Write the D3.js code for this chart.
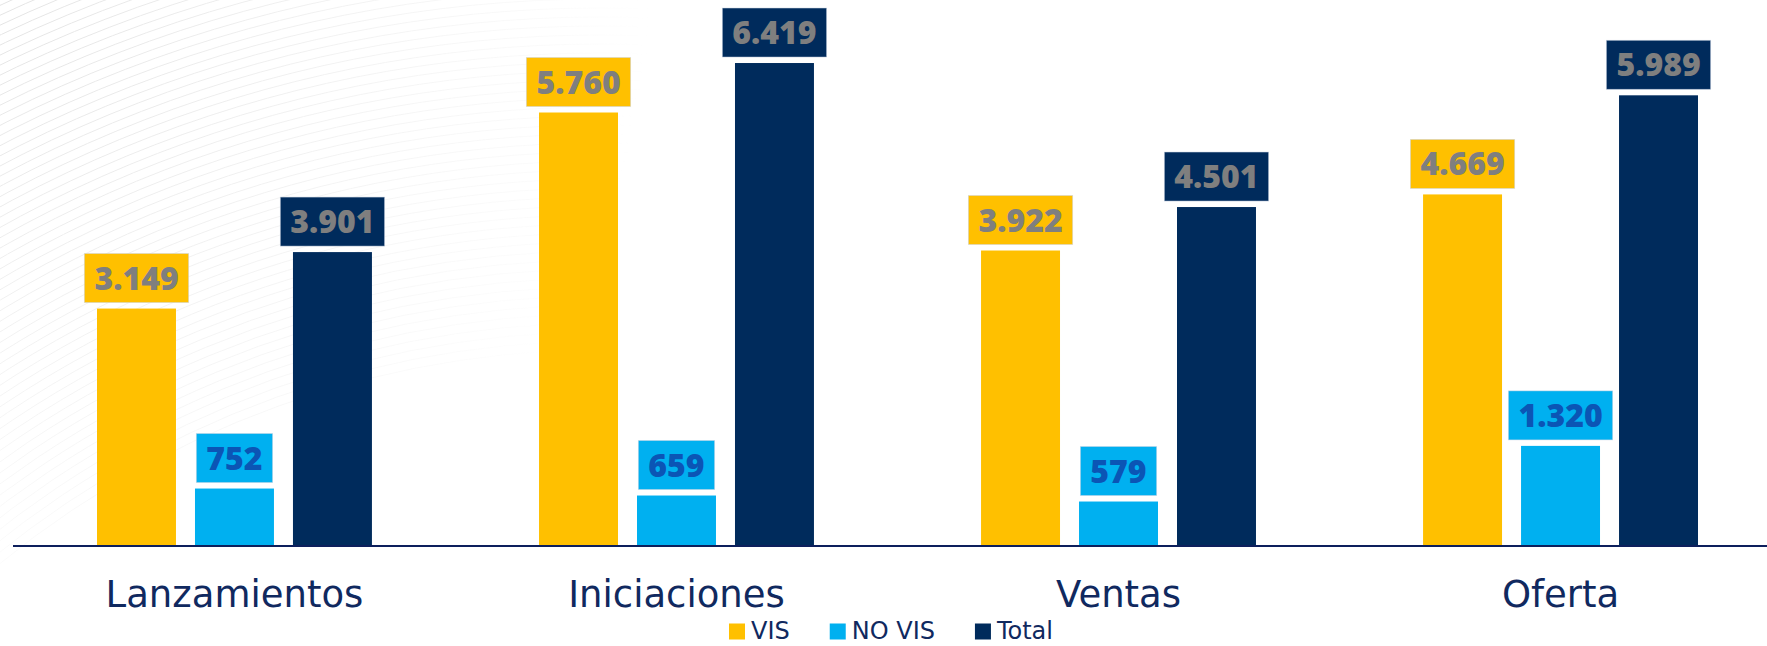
<!DOCTYPE html>
<html>
<head>
<meta charset="utf-8">
<script src="https://d3js.org/d3.v7.min.js"></script>
<style>
  body { margin: 0; background: #fff; }
</style>
</head>
<body>
<div id="chart"></div>
<script>
// data
var categories = ["Lanzamientos", "Iniciaciones", "Ventas", "Oferta"];
var seriesNames = ["VIS", "NO VIS", "Total"];
var visValues = [3149, 5760, 3922, 4669];
var noVisValues = [752, 659, 579, 1320];
var totalValues = [3901, 6419, 4501, 5989];

var colors = {"VIS": "#ffc000", "NO VIS": "#00b0f0", "Total": "#002b5c"};
var labelColors = {"VIS": "#7f7f7f", "NO VIS": "#0b55b5", "Total": "#7f7f7f"};

var width = 1767, height = 646;

var svg = d3.select("#chart").append("svg")
  .attr("width", width)
  .attr("height", height);

// faint arcs in the top-left corner
var defs = svg.append("defs");
var grad = defs.append("radialGradient")
  .attr("id", "fade").attr("gradientUnits", "userSpaceOnUse")
  .attr("cx", 0).attr("cy", 0).attr("r", 650);
grad.append("stop").attr("offset", "0%").attr("stop-color", "#fff").attr("stop-opacity", 1);
grad.append("stop").attr("offset", "100%").attr("stop-color", "#fff").attr("stop-opacity", 0);
defs.append("mask").attr("id", "fadeMask")
  .append("rect").attr("width", width).attr("height", height).attr("fill", "url(#fade)");

svg.append("g").attr("mask", "url(#fadeMask)")
  .selectAll("circle")
  .data(d3.range(950, 1520, 9))
  .enter().append("circle")
    .attr("cx", 600).attr("cy", 1300).attr("r", function(d) { return d; })
    .attr("fill", "none").attr("stroke", "#e4e4e4").attr("stroke-width", 1);

var rows = categories.map(function(c, i) {
  return {cat: c, values: [visValues[i], noVisValues[i], totalValues[i]]};
});

var x0 = d3.scaleBand()
  .domain(categories)
  .range([97, 1698])
  .paddingInner(0.378)
  .paddingOuter(0);

var x1 = d3.scaleBand()
  .domain(seriesNames)
  .range([0, x0.bandwidth()])
  .paddingInner(0.194);

var y = d3.scaleLinear()
  .domain([0, 7000])
  .range([545, 19.4]);

var fmt = d3.formatLocale({decimal: ",", thousands: ".", grouping: [3], currency: ["$", ""]}).format(",d");

var groups = svg.selectAll(".grp")
  .data(rows)
  .enter().append("g")
    .attr("class", "grp")
    .attr("transform", function(d) { return "translate(" + x0(d.cat) + ",0)"; });

var items = groups.selectAll(".item")
  .data(function(d) { return seriesNames.map(function(s, j) { return {s: s, v: d.values[j]}; }); })
  .enter().append("g").attr("class", "item");

items.append("rect")
  .attr("x", function(d) { return x1(d.s); })
  .attr("y", function(d) { return y(d.v); })
  .attr("width", x1.bandwidth())
  .attr("height", function(d) { return y(0) - y(d.v); })
  .attr("fill", function(d) { return colors[d.s]; });

// value labels in boxes
items.each(function(d) {
  var g = d3.select(this);
  var cx = x1(d.s) + x1.bandwidth() / 2;
  var boxBottom = y(d.v) - 6;
  var box = g.append("rect")
    .attr("fill", colors[d.s])
    .attr("stroke", "rgba(200,210,225,0.6)")
    .attr("stroke-width", 0.8);
  var t = g.append("text")
    .attr("x", cx)
    .attr("y", boxBottom - 24.5)
    .attr("dy", "0.36em")
    .attr("text-anchor", "middle")
    .style("font-family", "'Open Sans', sans-serif")
    .style("font-weight", 800)
    .style("font-size", "32px")
    .attr("fill", labelColors[d.s])
    .text(fmt(d.v));
  var w = t.node().getComputedTextLength() + 20;
  box.attr("x", cx - w / 2).attr("y", boxBottom - 49).attr("width", w).attr("height", 49);
});

// category axis
var axis = svg.append("g")
  .attr("transform", "translate(0," + y(0) + ")")
  .call(d3.axisBottom(x0).tickSize(0));
axis.select(".domain").remove();
axis.selectAll("text")
  .attr("y", 62).attr("dy", 0)
  .attr("fill", "#10295f")
  .style("font-family", "'DejaVu Sans', sans-serif")
  .style("font-size", "37px");

svg.append("line")
  .attr("x1", 13).attr("x2", width)
  .attr("y1", y(0) + 1).attr("y2", y(0) + 1)
  .attr("stroke", "#0d1f5c").attr("stroke-width", 2);

// legend
var legend = svg.append("g");
var lx = 0;
seriesNames.forEach(function(s) {
  var it = legend.append("g").attr("transform", "translate(" + lx + ",0)");
  it.append("rect").attr("x", 0).attr("y", 623.5).attr("width", 16).attr("height", 16).attr("fill", colors[s]);
  var t = it.append("text").attr("x", 22).attr("y", 639)
    .attr("fill", "#10295f")
    .style("font-family", "'DejaVu Sans', sans-serif")
    .style("font-size", "24px")
    .text(s);
  lx += 22 + t.node().getComputedTextLength() + 40;
});
var lw = lx - 40;
legend.attr("transform", "translate(" + (891 - lw / 2) + ",0)");
</script>
</body>
</html>
